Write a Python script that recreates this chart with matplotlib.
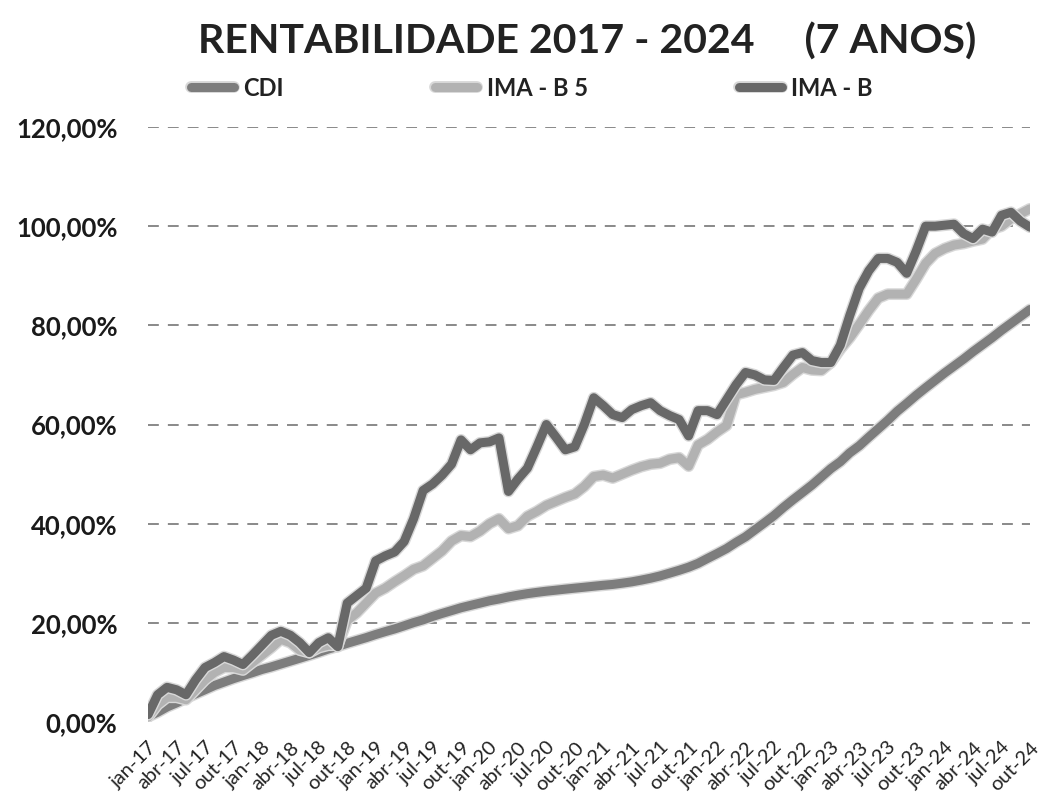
import matplotlib
matplotlib.use('Agg')
import matplotlib.pyplot as plt
import matplotlib.patheffects as pe
from matplotlib.ticker import FuncFormatter

plt.rcParams['font.family'] = ['Lato', 'DejaVu Sans']

# monthly dates, jan-17 .. out-24
months_pt = ['jan', 'fev', 'mar', 'abr', 'mai', 'jun', 'jul', 'ago', 'set', 'out', 'nov', 'dez']
dates = [f'{m}-{y}' for y in range(17, 25) for m in months_pt][:94]

# cumulative returns (%)
cdi = [1.09, 1.97, 3.04, 3.86, 4.82, 5.67, 6.51, 7.37, 8.06, 8.75, 9.37, 9.96,
       10.60, 11.12, 11.71, 12.29, 12.87, 13.46, 14.07, 14.72, 15.26, 15.88, 16.45, 17.02,
       17.65, 18.23, 18.78, 19.40, 20.05, 20.61, 21.30, 21.90, 22.47, 23.05, 23.52, 23.98,
       24.45, 24.81, 25.23, 25.58, 25.89, 26.15, 26.39, 26.59, 26.80, 27.00, 27.19, 27.39,
       27.58, 27.75, 28.00, 28.27, 28.62, 29.01, 29.47, 30.03, 30.60, 31.23, 32.00, 33.00,
       33.97, 34.98, 36.22, 37.35, 38.77, 40.18, 41.63, 43.28, 44.82, 46.29, 47.78, 49.44,
       51.11, 52.50, 54.29, 55.71, 57.45, 59.14, 60.84, 62.67, 64.25, 65.89, 67.42, 68.91,
       70.40, 71.80, 73.20, 74.70, 76.10, 77.50, 79.00, 80.40, 81.80, 83.20]

ima_b5 = [1.0, 3.5, 5.0, 5.0, 4.5, 6.5, 8.5, 10.0, 11.0, 11.0, 10.5, 12.0,
          13.5, 15.0, 16.7, 16.0, 14.5, 14.0, 15.0, 15.5, 15.5, 20.5, 22.0, 24.0,
          26.0, 27.0, 28.3, 29.5, 30.8, 31.5, 33.0, 34.5, 36.5, 37.6, 37.4, 38.5,
          40.0, 41.0, 39.0, 39.6, 41.5, 42.5, 43.7, 44.5, 45.3, 46.0, 47.5, 49.5,
          49.8, 49.2, 50.0, 50.8, 51.5, 52.0, 52.2, 53.0, 53.3, 51.6, 55.9, 57.0,
          58.5, 59.8, 66.0, 66.5, 67.1, 67.5, 67.9, 68.5, 70.1, 71.5, 71.0, 70.9,
          72.5, 75.2, 77.5, 80.2, 83.0, 85.5, 86.3, 86.3, 86.3, 89.3, 92.5, 94.5,
          95.5, 96.2, 96.5, 97.0, 97.4, 99.4, 100.0, 101.5, 102.5, 103.5]

ima_b = [1.5, 5.5, 7.0, 6.5, 5.5, 8.5, 11.0, 12.0, 13.2, 12.5, 11.6, 13.5,
         15.5, 17.5, 18.3, 17.5, 16.0, 14.0, 16.0, 17.0, 15.2, 24.0, 25.5, 27.0,
         32.5, 33.5, 34.3, 36.4, 41.0, 46.7, 48.0, 49.8, 52.0, 56.9, 54.9, 56.3,
         56.5, 57.3, 46.5, 49.0, 51.2, 55.5, 60.0, 57.5, 54.9, 55.5, 60.0, 65.4,
         63.8, 62.0, 61.4, 63.0, 63.8, 64.4, 62.8, 61.8, 61.0, 57.7, 62.8, 62.8,
         62.0, 65.0, 68.0, 70.5, 70.0, 69.0, 68.9, 71.5, 74.0, 74.5, 72.9, 72.5,
         72.5, 76.0, 82.0, 87.5, 91.0, 93.5, 93.5, 92.7, 90.5, 95.0, 100.0, 100.0,
         100.2, 100.4, 98.5, 97.5, 99.4, 98.8, 102.2, 102.8, 101.0, 99.8]

series = [('CDI', cdi, '#7d7d7d'), ('IMA - B 5', ima_b5, '#b2b2b2'), ('IMA - B', ima_b, '#686868')]

fig = plt.figure(figsize=(10.43, 8.09), dpi=100)
ax = fig.add_axes([0.142, 0.1075, 0.8455, 0.7355])

x = list(range(len(dates)))
shadow = [pe.Stroke(linewidth=8.5, foreground='#d8d8d8'), pe.Normal()]
for name, vals, col in series:
    ax.plot(x, vals, color=col, lw=6.5, solid_capstyle='round', solid_joinstyle='round',
            label=name, path_effects=shadow)

ax.set_xlim(0, len(dates) - 1)
ax.set_ylim(0, 120)
ax.set_yticks(range(0, 121, 20))
ax.yaxis.set_major_formatter(FuncFormatter(lambda v, p: f'{v:.2f}%'.replace('.', ',')))
for lab in ax.get_yticklabels():
    lab.set_fontweight('bold')
    lab.set_fontsize(18.5)
    lab.set_color('#1a1a1a')

ax.set_xticks(x[::3])
ax.set_xticklabels(dates[::3], rotation=45, ha='right', rotation_mode='anchor',
                   fontsize=14.5, color='#222222')
ax.tick_params(axis='x', length=0, pad=12)
ax.tick_params(axis='y', length=0, pad=22)

for v in range(20, 121, 20):
    ax.axhline(v, color='#808080', lw=1.3, ls=(0, (6, 5)), zorder=0)

for s in ax.spines.values():
    s.set_visible(False)

fig.text(0.563, 0.948, 'RENTABILIDADE 2017 - 2024     (7 ANOS)', ha='center', va='center',
         fontsize=29.5, fontweight='bold', color='#222222')

leg = fig.legend(loc='center', bbox_to_anchor=(0.51, 0.891), ncol=3, frameon=False,
                 fontsize=17, handlelength=1.8, handletextpad=0.4, columnspacing=6.4)
for t in leg.get_texts():
    t.set_fontweight('bold')
    t.set_color('#222222')

fig.savefig('out.png', dpi=100)
